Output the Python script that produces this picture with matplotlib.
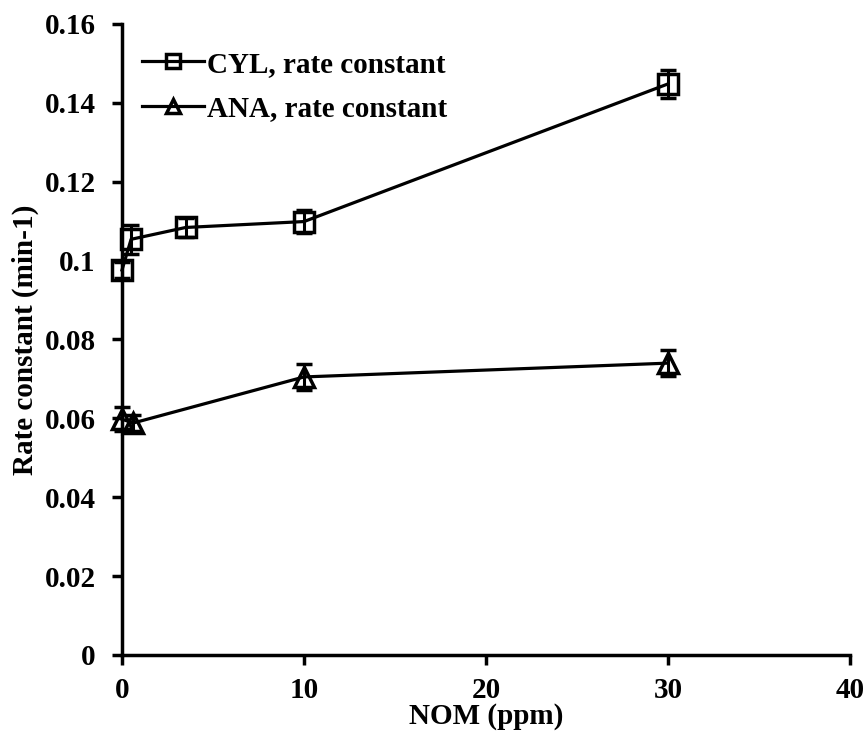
import matplotlib
matplotlib.use("Agg")
from matplotlib import pyplot as plt
from matplotlib.lines import Line2D
from matplotlib.ticker import FuncFormatter

# data
nom_cyl = [0, 0.5, 3.5, 10, 30]
rate_cyl = [0.0976, 0.1054, 0.1084, 0.1099, 0.1448]
err_cyl = [0.002, 0.0037, 0.0025, 0.003, 0.0036]

nom_ana = [0, 0.6, 10, 30]
rate_ana = [0.0598, 0.0588, 0.0705, 0.0740]
err_ana = [0.003, 0.002, 0.0033, 0.0033]

labels = ['CYL, rate constant', 'ANA, rate constant']

plt.rcParams['font.family'] = ['Liberation Serif', 'DejaVu Serif']
plt.rcParams['font.weight'] = 'bold'
plt.rcParams['font.size'] = 21

fig = plt.figure(figsize=(8.67, 7.31), dpi=100)
ax = fig.add_axes([0.1407, 0.104, 0.8397, 0.8632])

for x, y, e, m, s in [(nom_cyl, rate_cyl, err_cyl, 's', 14), (nom_ana, rate_ana, err_ana, '^', 15)]:
    line, caps, bars = ax.errorbar(x, y, yerr=e, color='black', lw=2.3,
                                   marker=m, ms=s, mfc='none', mec='black', mew=2.5,
                                   elinewidth=2.2, capsize=6, capthick=2.5)
    line.set_clip_on(False)
    for c in caps:
        c.set_clip_on(False)
    for b in bars:
        b.set_clip_on(False)

ax.set_xlim(0, 40)
ax.set_ylim(0, 0.16)
ax.set_xticks([0, 10, 20, 30, 40])
ax.set_yticks([0, 0.02, 0.04, 0.06, 0.08, 0.1, 0.12, 0.14, 0.16])
ax.yaxis.set_major_formatter(FuncFormatter(lambda v, p: '0' if v == 0 else '{:g}'.format(round(v, 2))))

for s in ['top', 'right']:
    ax.spines[s].set_visible(False)
for s in ['left', 'bottom']:
    ax.spines[s].set_linewidth(2.5)
ax.tick_params(direction='out', length=7, width=2.5)
ax.tick_params(axis='x', pad=9)
ax.tick_params(axis='y', pad=12)
for lab in ax.get_xticklabels() + ax.get_yticklabels():
    lab.set_fontweight('bold')

ax.set_xlabel('NOM (ppm)', fontweight='bold', labelpad=-1)
ax.set_ylabel('Rate constant (min-1)', fontweight='bold', labelpad=4)

handles = [Line2D([], [], color='black', lw=2.3, marker='s', ms=10, mfc='none', mew=2.5),
           Line2D([], [], color='black', lw=2.3, marker='^', ms=10, mfc='none', mew=2.5)]
ax.legend(handles, labels, loc='upper left', frameon=False, handlelength=2.1,
          handletextpad=0.1, borderaxespad=0.3, labelspacing=0.6,
          bbox_to_anchor=(0.0, 0.99))

fig.savefig('out.png', dpi=100)
